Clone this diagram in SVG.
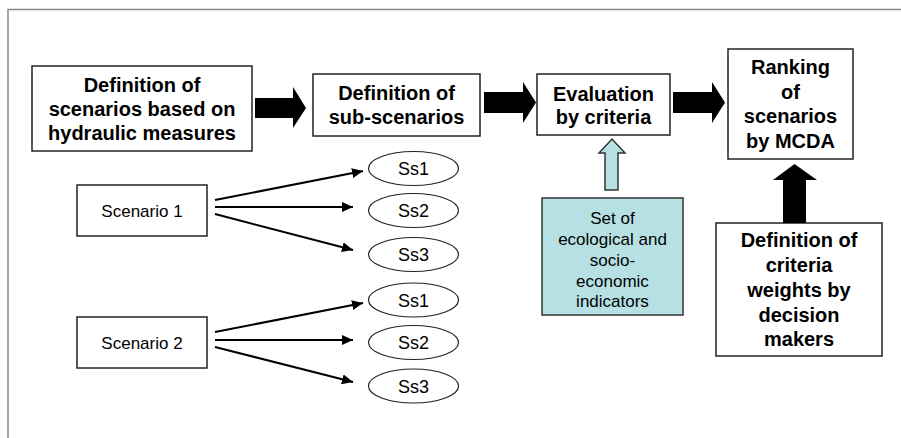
<svg xmlns="http://www.w3.org/2000/svg" width="901" height="438" viewBox="0 0 901 438">
<style>
.box{fill:#fff;stroke:#222;stroke-width:1.5}
.blue{fill:#b7e0e4;stroke:#333;stroke-width:1.5}
.ell{fill:#fff;stroke:#222;stroke-width:1.2}
.b{font-family:"Liberation Sans",Arial,sans-serif;font-weight:bold;font-size:20px;fill:#000;text-anchor:middle}
.n{font-family:"Liberation Sans",Arial,sans-serif;font-size:17px;fill:#000;text-anchor:middle}
.s{font-family:"Liberation Sans",Arial,sans-serif;font-size:18px;fill:#000;text-anchor:middle}
.con{stroke:#000;stroke-width:2;fill:none;marker-end:url(#ah)}
.blk{fill:#000;stroke:none}
</style>
<defs>
<marker id="ah" markerUnits="userSpaceOnUse" markerWidth="12" markerHeight="10" refX="11" refY="5" orient="auto">
<path d="M0,0 L11,5 L0,10 Z" fill="#000"/>
</marker>
</defs>
<path d="M8,438 L8,9.5 L901,9.5" fill="none" stroke="#888" stroke-width="1.5"/>

<g id="node-def-scenarios">
<rect class="box" x="32" y="66" width="220" height="85"/>
<text class="b" x="142" y="92">Definition of</text>
<text class="b" x="142" y="116">scenarios based on</text>
<text class="b" x="142" y="140">hydraulic measures</text>
</g>
<g id="node-def-subscenarios">
<rect class="box" x="313" y="74" width="167" height="62"/>
<text class="b" x="396.5" y="100">Definition of</text>
<text class="b" x="396.5" y="124">sub-scenarios</text>
</g>
<g id="node-evaluation">
<rect class="box" x="537" y="74" width="133" height="61"/>
<text class="b" x="603.5" y="100.5">Evaluation</text>
<text class="b" x="603.5" y="124">by criteria</text>
</g>
<g id="node-ranking">
<rect class="box" x="728" y="49" width="125" height="110"/>
<text class="b" x="790.5" y="74">Ranking</text>
<text class="b" x="790.5" y="98.5">of</text>
<text class="b" x="790.5" y="123">scenarios</text>
<text class="b" x="790.5" y="147.5">by MCDA</text>
</g>
<g id="node-indicators">
<rect class="blue" x="542" y="198" width="141" height="117"/>
<text class="n" x="612.5" y="224">Set of</text>
<text class="n" x="612.5" y="245">ecological and</text>
<text class="n" x="612.5" y="266">socio-</text>
<text class="n" x="612.5" y="287">economic</text>
<text class="n" x="612.5" y="307">indicators</text>
</g>
<g id="node-weights">
<rect class="box" x="716" y="223" width="166" height="133"/>
<text class="b" x="799" y="247">Definition of</text>
<text class="b" x="799" y="272">criteria</text>
<text class="b" x="799" y="297">weights by</text>
<text class="b" x="799" y="321.5">decision</text>
<text class="b" x="799" y="346">makers</text>
</g>
<g id="node-scenario1">
<rect class="box" x="77" y="185" width="130" height="51"/>
<text class="n" x="142" y="216.5">Scenario 1</text>
</g>
<g id="node-scenario2">
<rect class="box" x="77" y="317" width="130" height="51"/>
<text class="n" x="142" y="348.5">Scenario 2</text>
</g>
<g id="node-s1-ss1"><ellipse class="ell" cx="413.5" cy="168.5" rx="45" ry="17"/><text class="s" x="413.5" y="175">Ss1</text></g>
<g id="node-s1-ss2"><ellipse class="ell" cx="413.5" cy="210.5" rx="45" ry="17"/><text class="s" x="413.5" y="217">Ss2</text></g>
<g id="node-s1-ss3"><ellipse class="ell" cx="413.5" cy="254.5" rx="45" ry="17"/><text class="s" x="413.5" y="261">Ss3</text></g>
<g id="node-s2-ss1"><ellipse class="ell" cx="413.5" cy="300" rx="45" ry="17"/><text class="s" x="413.5" y="306.5">Ss1</text></g>
<g id="node-s2-ss2"><ellipse class="ell" cx="413.5" cy="342.5" rx="45" ry="17"/><text class="s" x="413.5" y="349">Ss2</text></g>
<g id="node-s2-ss3"><ellipse class="ell" cx="413.5" cy="386" rx="45" ry="17"/><text class="s" x="413.5" y="392.5">Ss3</text></g>

<g id="connectors">
<polygon class="blk" points="255,98 293,98 293,87 306,108 293,128 293,118 255,118"/>
<polygon class="blk" points="484,92 523,92 523,82 536,102.5 523,123 523,113 484,113"/>
<polygon class="blk" points="673,92 712,92 712,82 725,102.5 712,123 712,113 673,113"/>
<polygon class="blue" stroke-width="1.2" points="605,190 605,153 599,153 612,139 625,153 618,153 618,190"/>
<polygon class="blk" points="783,223 783,180 773,180 794.5,164 817,180 806,180 806,223"/>
<line class="con" x1="215" y1="200" x2="363" y2="171"/>
<line class="con" x1="215" y1="207" x2="353" y2="207"/>
<line class="con" x1="215" y1="214" x2="353" y2="250"/>
<line class="con" x1="215" y1="332" x2="363" y2="303"/>
<line class="con" x1="215" y1="340" x2="353" y2="340"/>
<line class="con" x1="215" y1="347" x2="353" y2="382"/>
</g>
</svg>
